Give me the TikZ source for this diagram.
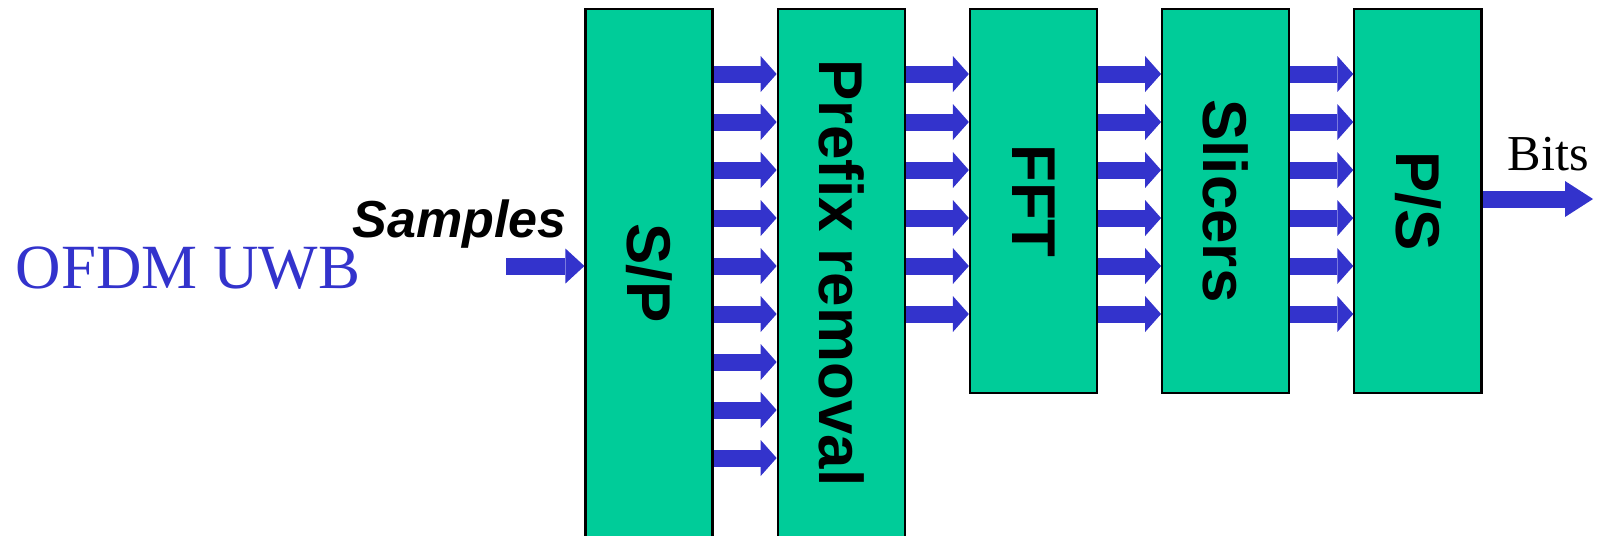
\documentclass[tikz,border=0pt]{standalone}
\usepackage{fontspec}
\setmainfont{Liberation Serif}
\newfontfamily\arialfont{Liberation Sans}
\usepackage{xcolor}
\usepackage{tikz}
\usetikzlibrary{positioning,arrows.meta}

\definecolor{blockgreen}{RGB}{0,204,153}
\definecolor{flowblue}{RGB}{51,51,204}

\tikzset{
  block/.style={draw=black, line width=0.6pt, fill=blockgreen,
    minimum width=1.27cm, inner sep=0pt,
    font=\arialfont\bfseries\fontsize{17.6}{20}\selectfont},
  tallblock/.style={block, minimum height=5.28cm},
  shortblock/.style={block, minimum height=3.84cm},
  fat/.style={flowblue, line width=0.17cm,
    -{Triangle[length=0.16cm,width=0.36cm,line width=0pt]}},
}

\begin{document}
\begin{tikzpicture}[x=0.01cm,y=-0.01cm]
    \useasboundingbox (0,0) rectangle (1604,535);

    % Receiver blocks
    \node[tallblock] (sp) at (649,273) {\rotatebox{-90}{S/P}};
    \node[tallblock, right=0.63cm of sp] (pre) {\rotatebox{-90}{Prefix removal}};
    \node[shortblock, right=0.63cm of pre.north east, anchor=north west] (fft) {\rotatebox{-90}{FFT}};
    \node[shortblock, right=0.63cm of fft] (slc) {\rotatebox{-90}{Slicers}};
    \node[shortblock, right=0.63cm of slc] (ps) {\rotatebox{-90}{P/S}};

    % Parallel streams
    \foreach \k in {0,...,8} {
        \pgfmathsetmacro{\y}{74+\k*48}
        \draw[fat] (sp.east |- 0,\y) -- (pre.west |- 0,\y);
    }
    \foreach \a/\b in {pre/fft, fft/slc, slc/ps} {
        \foreach \k in {0,...,5} {
            \pgfmathsetmacro{\y}{74+\k*48}
            \draw[fat] (\a.east |- 0,\y) -- (\b.west |- 0,\y);
        }
    }

    % Input and output
    \coordinate (in) at (506,266);
    \coordinate (out) at (1593,199);
    \draw[fat, -{Triangle[length=0.19cm,width=0.35cm,line width=0pt]}] (in) -- (sp.west |- in);
    \draw[fat, -{Triangle[length=0.28cm,width=0.36cm,line width=0pt]}] (ps.east |- out) -- (out);

    % Labels
    \node[anchor=base west, inner sep=0pt, text=flowblue, font=\fontsize{17.9}{20}\selectfont] (sys) at (15,288) {OFDM UWB};
    \node[anchor=base west, inner sep=0pt, font=\arialfont\bfseries\itshape\fontsize{14.8}{17}\selectfont] (smp) at (352,237) {Samples};
    \node[anchor=base west, inner sep=0pt, font=\fontsize{14.3}{17}\selectfont] (bits) at (1507,170) {Bits};
\end{tikzpicture}
\end{document}
